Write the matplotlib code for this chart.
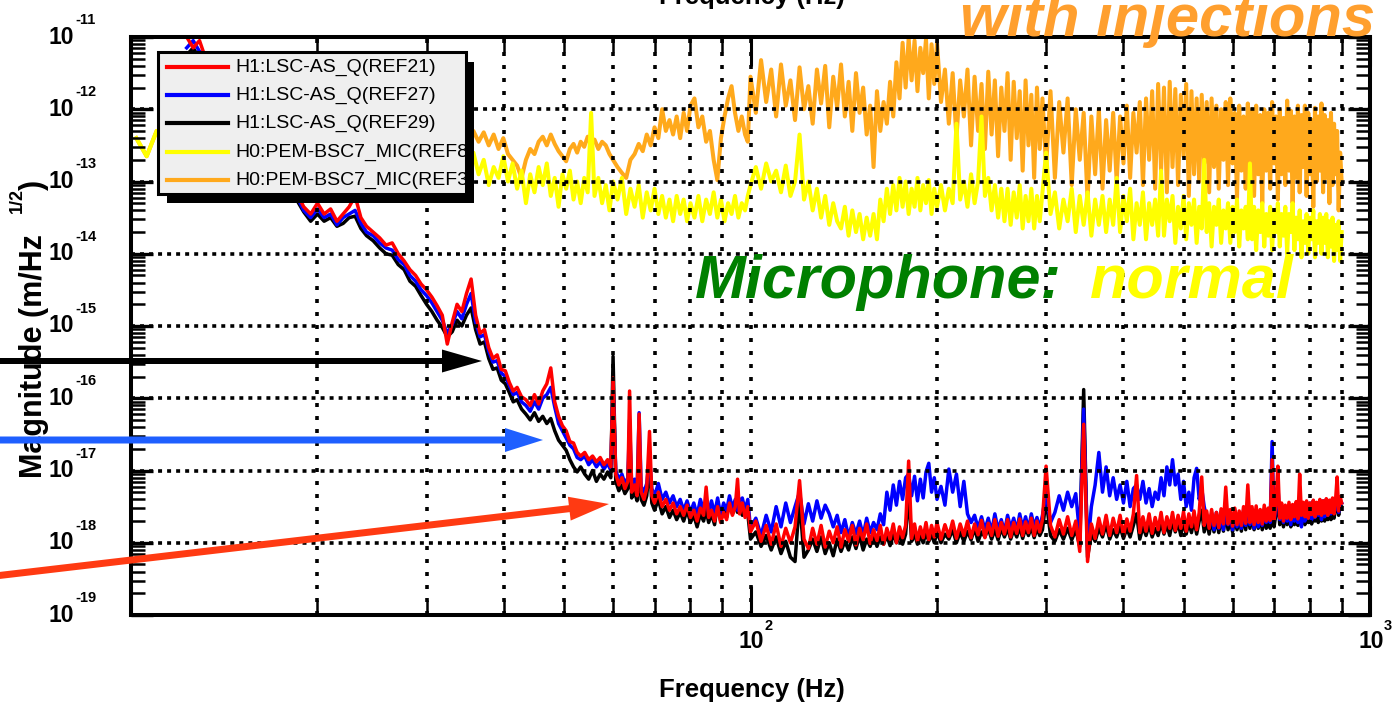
import numpy as np
import matplotlib
matplotlib.use("Agg")
import matplotlib.pyplot as plt
from matplotlib.patches import Rectangle, FancyArrow
from matplotlib.lines import Line2D
from matplotlib.transforms import Affine2D, ScaledTranslation
from matplotlib.ticker import LogLocator, NullFormatter

# ---------------------------------------------------------------------------
# Spectra: frequency bins (Hz) and log10 of the amplitude spectral density
# ---------------------------------------------------------------------------
# bins above 100 Hz are common to all five channels
freq_high = [
    100, 102, 104, 106, 108, 110, 112, 114, 116, 118,
    120, 122, 124, 126, 128, 130, 132, 134, 136, 138,
    140, 142, 144, 146, 148, 150, 152, 154, 156, 158,
    160, 162, 164, 166, 168, 170, 172, 174, 176, 178,
    180, 182, 184, 186, 188, 190, 192, 194, 196, 198,
    200, 203, 206, 209, 212, 215, 218, 221, 224, 227,
    230, 233, 236, 239, 242, 245, 248, 251, 254, 257,
    260, 263, 266, 269, 272, 275, 278, 281, 284, 287,
    290, 293, 296, 300, 305, 310, 315, 320, 325, 330,
    335, 340, 345, 350, 355, 360, 365, 370, 375, 380,
    385, 390, 395, 400, 405, 410, 415, 420, 425, 430,
    435, 440, 445, 450, 455, 460, 465, 470, 475, 480,
    485, 490, 495, 500, 505, 510, 515, 520, 525, 530,
    535, 540, 545, 550, 555, 560, 565, 570, 575, 580,
    585, 590, 595, 600, 605, 610, 615, 620, 625, 630,
    635, 640, 645, 650, 655, 660, 665, 670, 675, 680,
    685, 690, 695, 700, 705, 710, 715, 720, 725, 730,
    735, 740, 745, 750, 755, 760, 765, 770, 775, 780,
    785, 790, 795, 800, 805, 810, 815, 820, 825, 830,
    835, 840, 845, 850, 855, 860, 865, 870, 875, 880,
    885, 890, 895, 900,
]

freq_h1 = [
    12.3, 12.6, 12.9, 13.2, 13.6, 14.0, 14.5, 15.0, 15.6, 16.2, 16.8, 17.4, 18.0, 18.5, 19.0, 19.5, 20.0,
    20.5, 21.0, 21.5, 22.0, 22.5, 23.0, 23.5, 24.0, 24.6, 25.2, 25.8, 26.4, 27.0, 27.6, 28.2, 28.8, 29.4,
    30.0, 30.6, 31.2, 31.8, 32.4, 33.0, 33.6, 34.2, 34.8, 35.4, 36.0, 36.6, 37.2, 37.8, 38.4, 39.0, 39.6,
    40.2, 40.8, 41.4, 42.0, 42.7, 43.4, 44.1, 44.8, 45.5, 46.2, 46.9, 47.6, 48.3, 49.0, 49.7, 50.4, 51.1,
    51.8, 52.5, 53.2, 54.0, 54.8, 55.6, 56.4, 57.2, 58.0, 58.8, 59.5, 60.0,
    60.6, 61.3, 62.0, 62.7, 63.4, 63.8, 64.3, 65.0, 65.6, 66.1, 66.6, 67.3, 68.0, 68.7, 69.3, 70.0, 71.0,
    72.0, 73.0, 74.0, 75.0, 76.0, 77.0, 78.0, 79.0, 80.0, 81.0, 82.0, 83.0, 84.0, 84.8, 85.6, 86.5, 87.5,
    88.5, 89.5, 90.5, 91.5, 92.5, 93.5, 94.5, 95.3, 96.0, 97.0, 98.0, 99.0,
] + freq_high

freq_mic = [
    10.2, 10.6, 11.0, 11.5, 12.0, 13.0, 14.0, 15.5, 17.0, 18.5, 20.0, 22.0, 24.0, 26.0, 28.0, 30.0, 32.0, 34.0,
    35.0, 35.7, 36.4, 37.1, 37.8, 38.5, 39.2, 39.9, 40.6, 41.3, 42.0, 42.7, 43.4, 44.1, 44.8, 45.5, 46.2,
    46.9, 47.6, 48.3, 49.0, 49.7, 50.4, 51.1, 51.8, 52.5, 53.2, 53.9, 54.6, 55.3, 56.0, 56.8, 57.6, 58.4,
    59.2, 60.0, 61, 62, 63, 64, 65, 66, 67, 68, 69, 70, 71, 72, 73, 74, 75, 76, 77, 78, 79, 80,
    81.2, 82.4, 83.6, 84.8, 86, 87.2, 88.4, 89.6, 90.8, 92, 93.2, 94.4, 95.6, 96.8, 98, 99.0,
] + freq_high

ref21_red = [
    -11.00, -11.15, -11.05, -11.30, -11.40, -11.55, -11.75, -11.95, -12.15, -12.35, -12.55, -12.75, -12.95,
    -13.15, -13.35, -13.45, -13.30, -13.45, -13.38, -13.55, -13.45, -13.35, -13.20, -13.50, -13.62, -13.70,
    -13.78, -13.88, -13.85, -14.00, -14.10, -14.22, -14.30, -14.42,
    -14.50, -14.60, -14.72, -14.85, -15.25, -14.95, -14.70, -14.80, -14.55, -14.35,
    -14.85, -15.10, -15.05, -15.30, -15.45, -15.40, -15.60, -15.62, -15.78, -15.90,
    -15.85, -15.98, -16.02, -16.10, -15.95, -16.08, -15.90, -15.80, -15.58, -16.05,
    -16.25, -16.38, -16.45, -16.60, -16.62, -16.75, -16.80, -16.75, -16.85, -16.80,
    -16.88, -16.82, -16.92, -16.85, -16.95, -15.72,
    -17.05, -17.20, -17.10, -17.25, -17.15, -15.90, -17.30, -17.20, -17.35, -16.22,
    -17.30, -17.40, -17.25, -16.46, -17.35, -17.45, -17.30, -17.50, -17.40, -17.55,
    -17.45, -17.60, -17.50, -17.62, -17.48, -17.65, -17.55, -17.70, -17.52, -17.62,
    -17.23, -17.65, -17.55, -17.70, -17.50, -17.72, -17.58, -17.68, -17.45, -17.62,
    -17.50, -17.12, -17.60, -17.45, -17.65, -17.50,
    # from 100 Hz
    -17.85, -17.70, -17.98, -17.76, -18.02, -17.74, -18.05, -17.80, -18.00, -17.78,
    -17.14, -17.95, -18.08, -17.80, -18.02, -17.76, -18.06, -17.84, -18.00, -17.78,
    -18.06, -17.82, -17.98, -17.76, -18.03, -17.80, -17.96, -17.74, -18.01, -17.82,
    -17.97, -17.76, -18.02, -17.80, -17.95, -17.74, -18.00, -17.78, -17.93, -17.76,
    -16.87, -17.94, -17.74, -17.98, -17.78, -17.93, -17.72, -17.96, -17.76, -17.92,
    -17.72, -17.95, -17.75, -17.91, -17.70, -17.94, -17.74, -17.90, -17.70, -17.93,
    -17.74, -17.89, -17.69, -17.93, -17.73, -17.90, -17.68, -17.91, -17.72, -17.88,
    -17.68, -17.92, -17.72, -17.87, -17.67, -17.90, -17.71, -17.86, -17.66, -17.90,
    -17.70, -17.85, -17.68, -16.94, -17.76, -17.92, -17.68, -17.88, -17.64, -17.90,
    -17.70, -18.12, -16.36, -18.26, -17.74, -17.94, -17.66, -17.88, -17.62, -17.90,
    -17.66, -17.86, -17.62, -17.90, -17.67, -17.84, -17.60, -17.07, -17.86, -17.64,
    -17.84, -17.60, -17.87, -17.65, -17.82, -17.58, -17.86, -17.64, -17.80, -17.58,
    -17.83, -17.62, -17.80, -17.57, -17.84, -17.60, -17.78, -17.56, -17.82, -17.58,
    -17.09, -17.76, -17.56, -17.80, -17.54, -17.76, -17.58, -17.79, -17.53, -17.74,
    -17.23, -17.74, -17.54, -17.77, -17.52, -17.75, -17.56, -17.76, -17.50, -17.73,
    -17.20, -17.72, -17.50, -17.75, -17.49, -17.72, -17.54, -17.74, -17.48, -17.70,
    -17.52, -17.69, -16.85, -17.68, -17.47, -16.94, -17.66, -17.45, -17.70, -17.48,
    -17.66, -17.44, -17.68, -17.47, -17.64, -17.43, -17.67, -17.05, -17.62, -17.44,
    -17.64, -17.42, -17.66, -17.45, -17.61, -17.41, -17.64, -17.44, -17.60, -17.40,
    -17.62, -17.42, -17.59, -17.39, -17.62, -17.41, -17.58, -17.38, -17.60, -17.40,
    -17.09, -17.56, -17.36, -17.45,
]

ref27_blue = [
    -11.15, -11.05, -11.20, -11.25, -11.45, -11.60, -11.80, -12.00, -12.20, -12.40,
    -12.60, -12.80, -13.00, -13.20, -13.40, -13.50, -13.38, -13.50, -13.45, -13.60,
    -13.50, -13.45, -13.40, -13.58, -13.70, -13.75, -13.85, -13.92, -13.95, -14.08,
    -14.15, -14.30, -14.38, -14.50,
    -14.58, -14.68, -14.80, -14.92, -15.10, -14.98, -14.80, -14.90, -14.70, -14.55,
    -14.95, -15.15, -15.12, -15.35, -15.50, -15.48, -15.65, -15.70, -15.82, -15.95,
    -15.92, -16.05, -16.10, -16.18, -16.05, -16.15, -16.00, -15.95, -15.85, -16.12,
    -16.35, -16.45, -16.55, -16.65, -16.70, -16.82, -16.85, -16.80, -16.92, -16.85,
    -16.95, -16.88, -16.98, -16.90, -17.00, -15.80,
    -17.00, -17.12, -17.05, -17.18, -17.10, -16.30, -17.22, -17.12, -17.28, -16.20,
    -17.22, -17.30, -17.18, -16.80, -17.25, -17.35, -17.18, -17.40, -17.30, -17.45,
    -17.35, -17.50, -17.40, -17.55, -17.42, -17.58, -17.45, -17.62, -17.40, -17.55,
    -17.45, -17.58, -17.42, -17.60, -17.38, -17.62, -17.45, -17.55, -17.35, -17.52,
    -17.40, -17.55, -17.42, -17.38, -17.55, -17.40,
    # from 100 Hz
    -17.80, -17.66, -17.90, -17.62, -17.85, -17.50, -17.78, -17.45, -17.72, -17.50,
    -17.30, -17.74, -17.46, -17.70, -17.42, -17.66, -17.48, -17.60, -17.78, -17.62,
    -17.86, -17.68, -17.92, -17.72, -17.88, -17.70, -17.90, -17.66, -17.86, -17.72,
    -17.82, -17.60, -17.75, -17.30, -17.55, -17.20, -17.48, -17.15, -17.40, -17.10,
    -17.05, -17.35, -17.08, -17.42, -17.12, -17.38, -17.02, -16.90, -17.30, -17.10,
    -17.40, -17.22, -17.48, -16.98, -17.30, -17.05, -17.50, -17.15, -17.60, -17.72,
    -17.62, -17.80, -17.64, -17.82, -17.66, -17.85, -17.60, -17.82, -17.68, -17.85,
    -17.62, -17.80, -17.66, -17.84, -17.60, -17.80, -17.64, -17.82, -17.60, -17.78,
    -17.65, -17.80, -17.62, -17.30, -17.72, -17.58, -17.35, -17.55, -17.30, -17.50,
    -17.32, -17.90, -16.15, -18.10, -17.50, -17.20, -16.75, -17.30, -16.95, -17.35,
    -17.10, -17.40, -17.20, -17.45, -17.15, -17.50, -17.25, -17.20, -17.40, -17.15,
    -17.45, -17.25, -17.50, -17.30, -17.40, -17.10, -17.35, -16.95, -17.20, -16.85,
    -17.20, -17.05, -17.40, -17.15, -17.50, -17.30, -17.55, -17.10, -16.97, -17.40,
    -17.25, -17.50, -17.65, -17.78, -17.60, -17.82, -17.58, -17.80, -17.62, -17.82,
    -17.45, -17.75, -17.58, -17.82, -17.55, -17.78, -17.60, -17.80, -17.55, -17.76,
    -17.50, -17.75, -17.56, -17.80, -17.55, -17.78, -17.60, -17.76, -17.54, -17.72,
    -17.60, -17.72, -16.60, -17.70, -17.50, -17.20, -17.68, -17.50, -17.72, -17.52,
    -17.70, -17.48, -17.75, -17.50, -17.70, -17.46, -17.72, -17.45, -17.78, -17.50,
    -17.70, -17.48, -17.66, -17.45, -17.68, -17.42, -17.65, -17.46, -17.62, -17.44,
    -17.68, -17.42, -17.64, -17.40, -17.62, -17.45, -17.60, -17.42, -17.58, -17.45,
    -17.50, -17.58, -17.42, -17.45,
]

ref29_black = [
    -11.25, -11.15, -11.30, -11.35, -11.50, -11.65, -11.85, -12.05, -12.25, -12.45,
    -12.65, -12.85, -13.05, -13.25, -13.42, -13.55, -13.45, -13.55, -13.50, -13.62,
    -13.58, -13.50, -13.48, -13.65, -13.75, -13.82, -13.92, -14.00, -14.02, -14.15,
    -14.22, -14.38, -14.45, -14.58,
    -14.70, -14.80, -14.92, -15.02, -15.15, -15.08, -14.92, -15.00, -14.85, -14.75,
    -15.05, -15.25, -15.22, -15.45, -15.60, -15.58, -15.75, -15.80, -15.92, -16.05,
    -16.02, -16.15, -16.22, -16.30, -16.20, -16.32, -16.25, -16.35, -16.28, -16.45,
    -16.58, -16.65, -16.72, -16.85, -16.95, -17.02, -16.95, -17.05, -17.12, -17.00,
    -17.15, -17.05, -17.12, -17.02, -17.10, -15.42,
    -17.15, -17.28, -17.20, -17.32, -17.25, -16.45, -17.38, -17.30, -17.42, -16.95,
    -17.40, -17.48, -17.35, -16.90, -17.45, -17.55, -17.40, -17.60, -17.50, -17.65,
    -17.55, -17.68, -17.58, -17.70, -17.55, -17.72, -17.62, -17.78, -17.60, -17.70,
    -17.55, -17.72, -17.60, -17.75, -17.45, -17.70, -17.50, -17.65, -17.42, -17.60,
    -17.48, -17.58, -17.50, -17.62, -17.48, -17.60,
    # from 100 Hz
    -17.95, -17.85, -18.05, -17.90, -18.10, -17.92, -18.15, -17.98, -18.20, -18.26,
    -17.40, -18.20, -18.10, -17.95, -18.12, -17.92, -18.15, -18.00, -18.18, -17.95,
    -18.12, -17.98, -18.10, -17.92, -18.08, -17.90, -18.10, -17.95, -18.05, -17.90,
    -18.05, -17.92, -18.02, -17.90, -18.04, -17.88, -18.00, -17.90, -18.02, -17.88,
    -17.30, -17.98, -17.88, -18.02, -17.90, -18.00, -17.86, -17.98, -17.88, -18.00,
    -17.85, -18.00, -17.88, -17.95, -17.82, -18.00, -17.85, -17.98, -17.84, -17.96,
    -17.80, -17.98, -17.85, -17.92, -17.80, -17.95, -17.82, -17.96, -17.80, -17.92,
    -17.80, -17.95, -17.82, -17.92, -17.78, -17.94, -17.80, -17.90, -17.78, -17.93,
    -17.80, -17.90, -17.82, -17.40, -17.90, -17.98, -17.82, -17.95, -17.80, -17.96,
    -17.82, -18.05, -15.88, -18.20, -17.88, -17.98, -17.80, -17.92, -17.75, -17.95,
    -17.82, -17.92, -17.78, -17.94, -17.80, -17.92, -17.76, -17.60, -17.95, -17.78,
    -17.90, -17.75, -17.92, -17.80, -17.90, -17.72, -17.88, -17.75, -17.90, -17.70,
    -17.85, -17.72, -17.90, -17.70, -17.88, -17.72, -17.86, -17.68, -17.88, -17.70,
    -17.55, -17.85, -17.70, -17.88, -17.68, -17.85, -17.66, -17.86, -17.64, -17.84,
    -17.60, -17.82, -17.68, -17.85, -17.65, -17.82, -17.66, -17.84, -17.62, -17.82,
    -17.55, -17.80, -17.62, -17.82, -17.60, -17.80, -17.64, -17.82, -17.62, -17.80,
    -17.65, -17.80, -17.10, -17.78, -17.60, -17.40, -17.75, -17.58, -17.78, -17.60,
    -17.75, -17.58, -17.78, -17.60, -17.75, -17.56, -17.76, -17.50, -17.72, -17.58,
    -17.75, -17.56, -17.72, -17.55, -17.74, -17.54, -17.70, -17.52, -17.72, -17.52,
    -17.70, -17.50, -17.70, -17.52, -17.68, -17.50, -17.68, -17.52, -17.66, -17.50,
    -17.45, -17.62, -17.48, -17.50,
]

ref8_yellow = [
    -12.40, -12.65, -12.30, -12.55, -12.45, -12.55, -12.60, -12.50, -12.65, -12.60, -12.70, -12.65,
    -12.75, -12.70, -12.80, -12.75, -12.85, -12.80,
    -12.75, -12.60, -12.90, -12.70, -13.05, -12.80, -12.95, -12.65, -13.00, -12.75,
    -13.10, -12.85, -13.30, -12.90, -13.15, -12.80, -13.05, -12.75, -13.20, -12.95,
    -13.35, -12.90, -13.10, -12.85, -13.25, -13.00, -13.30, -12.95, -13.15, -12.05,
    -13.20, -12.95, -13.30, -13.05, -13.40, -13.00,
    -13.25, -12.95, -13.45, -13.10, -13.35, -13.05, -13.50, -13.15, -13.40, -13.10,
    -13.45, -13.20, -13.50, -13.25, -13.55, -13.20, -13.45, -13.25, -13.55, -13.30,
    -13.50, -13.20, -13.55, -13.25, -13.45, -13.15, -13.50, -13.25, -13.55, -13.30,
    -13.45, -13.20, -13.50, -13.30, -13.40, -13.20,
    # from 100 Hz
    -13.05, -12.80, -13.10, -12.75, -13.00, -12.85, -13.15, -12.78, -13.20, -13.00,
    -12.35, -13.25, -13.00, -13.40, -13.10, -13.50, -13.20, -13.60, -13.30, -13.55,
    -13.65, -13.35, -13.75, -13.40, -13.70, -13.45, -13.80, -13.50, -13.75, -13.45,
    -13.80, -13.25, -13.55, -13.10, -13.45, -13.05, -13.40, -12.95, -13.35, -13.00,
    -13.45, -13.10, -13.35, -12.95, -13.40, -13.05, -13.30, -12.98, -13.45, -13.10,
    -13.35, -13.05, -13.40, -13.10, -13.30, -12.20, -13.25, -13.00, -13.35, -12.90,
    -13.30, -13.00, -12.10, -13.20, -12.95, -13.40, -13.05, -13.50, -13.10, -13.55,
    -13.10, -13.60, -13.15, -13.50, -13.05, -13.65, -13.20, -13.55, -13.10, -13.65,
    -13.20, -13.55, -13.15, -12.60, -13.45, -13.15, -13.65, -13.25, -13.55, -13.10,
    -13.70, -13.20, -13.60, -13.15, -13.75, -13.25, -13.60, -13.20, -13.70, -13.25,
    -13.60, -12.95, -13.70, -13.20, -13.55, -13.10, -13.80, -13.30, -13.60, -13.15,
    -13.80, -13.30, -13.60, -13.25, -13.75, -12.85, -13.75, -13.25, -13.55, -13.20,
    -13.85, -13.35, -13.65, -13.20, -13.80, -13.30, -13.60, -13.25, -13.85, -13.35,
    -13.65, -12.70, -13.70, -13.30, -13.90, -13.35, -13.60, -13.25, -13.85, -13.40,
    -13.65, -13.30, -13.85, -13.35, -13.70, -13.25, -13.90, -13.40, -13.65, -13.35,
    -13.80, -12.75, -13.80, -13.35, -13.95, -13.40, -13.70, -13.30, -13.90, -13.45,
    -13.75, -13.35, -13.95, -13.40, -13.70, -13.30, -13.90, -13.45, -13.75, -13.35,
    -14.00, -13.45, -13.70, -13.30, -13.95, -13.50, -13.80, -13.40, -14.05, -13.55,
    -13.85, -13.45, -14.00, -13.50, -13.80, -13.40, -14.05, -13.55, -13.85, -13.45,
    -14.00, -13.50, -13.85, -13.45, -14.05, -13.55, -13.90, -13.50, -14.10, -13.60,
    -13.95, -13.55, -14.10, -13.70,
]

ref3_orange = [
    -12.40, -12.65, -12.30, -12.55, -12.50, -12.45, -12.55, -12.40, -12.50, -12.45, -12.55, -12.40,
    -12.50, -12.45, -12.55, -12.40, -12.50, -12.45,
    -12.40, -12.30, -12.45, -12.32, -12.50, -12.35, -12.55, -12.40, -12.62, -12.70,
    -12.78, -12.95, -12.70, -12.55, -12.62, -12.45, -12.38, -12.50, -12.35, -12.48,
    -12.58, -12.65, -12.72, -12.55, -12.48, -12.60, -12.45, -12.52, -12.38, -12.50,
    -12.42, -12.55, -12.45, -12.50, -12.62, -12.70,
    -12.80, -12.88, -12.95, -12.70, -12.62, -12.48, -12.58, -12.35, -12.50, -12.25,
    -12.40, -12.00, -12.30, -12.15, -12.35, -12.10, -12.40, -12.05, -12.30, -11.95,
    -11.85, -12.25, -12.10, -12.45, -12.30, -12.70, -12.98, -12.40, -12.10, -11.85,
    -11.68, -12.05, -12.30, -12.10, -12.35, -12.45,
    # from 100 Hz
    -11.55, -12.05, -11.32, -11.90, -11.45, -12.10, -11.38, -11.95, -11.60, -12.15,
    -11.42, -12.00, -11.68, -12.20, -11.45, -11.92, -11.40, -12.25, -11.55, -11.98,
    -11.38, -12.10, -11.62, -12.30, -11.50, -12.05, -11.70, -12.35, -11.95, -12.80,
    -11.75, -12.30, -11.90, -12.20, -11.62, -12.10, -11.35, -11.85, -11.08, -11.70,
    -11.02, -11.60, -11.05, -11.75, -11.15, -11.50, -11.03, -11.85, -11.10, -11.65,
    -11.08, -11.90, -11.45, -12.20, -11.50, -12.40, -11.60, -12.10, -11.45, -12.50,
    -11.55, -12.30, -11.65, -12.55, -11.48, -12.35, -11.60, -12.65, -11.70, -12.30,
    -11.50, -12.70, -11.62, -12.40, -11.75, -12.85, -11.60, -12.50, -11.80, -12.95,
    -11.70, -12.55, -11.85, -12.80, -11.75, -12.95, -11.90, -12.60, -11.85, -13.05,
    -12.00, -12.70, -12.05, -13.25, -12.10, -12.90, -12.00, -13.10, -12.15, -12.85,
    -12.05, -13.00, -12.10, -12.75, -11.95, -12.95, -12.05, -12.60, -11.90, -13.05,
    -11.85, -12.70, -11.75, -13.10, -11.65, -12.85, -11.70, -13.15, -11.62, -12.80,
    -11.72, -13.05, -11.80, -12.65, -11.65, -13.20, -11.75, -12.90, -11.85, -13.00,
    -11.80, -12.75, -11.90, -13.15, -11.85, -12.80, -11.95, -13.10, -12.00, -12.70,
    -11.90, -13.05, -11.85, -12.75, -12.05, -13.25, -11.95, -12.85, -12.10, -13.10,
    -11.92, -12.80, -12.00, -13.20, -11.95, -12.90, -12.08, -13.30, -12.00, -12.85,
    -12.05, -13.10, -11.90, -12.75, -12.10, -13.25, -12.00, -12.90, -12.12, -13.05,
    -11.88, -12.85, -12.02, -13.30, -12.10, -12.95, -11.95, -13.15, -12.08, -12.80,
    -11.95, -13.20, -12.05, -12.90, -12.15, -13.35, -11.98, -13.00, -12.10, -12.85,
    -11.92, -13.15, -12.08, -12.95, -12.15, -13.30, -12.05, -13.05, -12.20, -12.90,
    -12.30, -13.40, -12.60, -13.00,
]

series_labels = [
    "H1:LSC-AS_Q(REF21)",
    "H1:LSC-AS_Q(REF27)",
    "H1:LSC-AS_Q(REF29)",
    "H0:PEM-BSC7_MIC(REF8)",
    "H0:PEM-BSC7_MIC(REF3)",
]
x_label_exponents = [2, 3]
y_label_exponents = [-11, -12, -13, -14, -15, -16, -17, -18, -19]

for f, v in [(freq_h1, ref21_red), (freq_h1, ref27_blue), (freq_h1, ref29_black),
             (freq_mic, ref8_yellow), (freq_mic, ref3_orange)]:
    assert len(f) == len(v), (len(f), len(v))

RED, BLUE, BLACK = "#ff0000", "#0000ff", "#000000"
YELLOW, ORANGE = "#ffff00", "#ffa91c"
series_colors = [RED, BLUE, BLACK, YELLOW, ORANGE]

# ---------------------------------------------------------------------------
W, H, DPI = 1397, 706, 100
fig = plt.figure(figsize=(W / DPI, H / DPI), dpi=DPI)
fig.patch.set_facecolor("white")

# pixel frame with the origin in the top-left corner
PX = Affine2D().scale(1.0 / DPI, -1.0 / DPI).translate(0, H / DPI) + fig.dpi_scale_trans


def px_rect(x0, y0, x1, y1):
    return [x0 / W, 1 - y1 / H, (x1 - x0) / W, (y1 - y0) / H]


ax = fig.add_axes(px_rect(131, 37, 1370, 615))
ax.set_xscale("log")
ax.set_yscale("log")

lw_h1, lw_mic = 2.5, 2.9
ax.plot(freq_mic, 10.0 ** np.asarray(ref3_orange), color=ORANGE, lw=lw_mic, zorder=2.00)
ax.plot(freq_mic, 10.0 ** np.asarray(ref8_yellow), color=YELLOW, lw=lw_mic, zorder=2.01)
ax.plot(freq_h1, 10.0 ** np.asarray(ref29_black), color=BLACK, lw=lw_h1, zorder=2.02)
ax.plot(freq_h1, 10.0 ** np.asarray(ref27_blue), color=BLUE, lw=lw_h1, zorder=2.03)
ax.plot(freq_h1, 10.0 ** np.asarray(ref21_red), color=RED, lw=lw_h1, zorder=2.04)

ax.set_xlim(10, 1000)
ax.set_ylim(1e-19, 1e-11)

ax.xaxis.set_major_locator(LogLocator(base=10, subs=(1.0,), numticks=10))
ax.xaxis.set_minor_locator(LogLocator(base=10, subs=(2, 3, 4, 5, 6, 7, 8, 9), numticks=50))
ax.yaxis.set_major_locator(LogLocator(base=10, subs=(1.0,), numticks=20))
ax.yaxis.set_minor_locator(LogLocator(base=10, subs=(2, 3, 4, 5, 6, 7, 8, 9), numticks=200))
ax.xaxis.set_minor_formatter(NullFormatter())
ax.yaxis.set_minor_formatter(NullFormatter())

ax.tick_params(which="both", direction="in", top=True, right=True,
               labelbottom=False, labelleft=False, color="black")
ax.tick_params(axis="x", which="major", length=21, width=2.2)
ax.tick_params(axis="x", which="minor", length=11, width=1.8)
ax.tick_params(axis="y", which="major", length=16, width=2.4)
ax.tick_params(axis="y", which="minor", length=10, width=1.8)

for sp in ax.spines.values():
    sp.set_linewidth(2.9)
    sp.set_color("black")

ax.set_axisbelow(False)
ax.xaxis.grid(True, which="both", color="black", linewidth=2.6,
              linestyle=(0, (1.1, 2.5)), dash_capstyle="butt")
ax.yaxis.grid(True, which="major", color="black", linewidth=2.6,
              linestyle=(0, (1.1, 1.4)), dash_capstyle="butt")
ax.yaxis.grid(False, which="minor")


def shift(dx, dy):
    return ScaledTranslation(dx / DPI, dy / DPI, fig.dpi_scale_trans)


tick_font = dict(family="Liberation Sans", weight="bold", color="black")
ytr = ax.get_yaxis_transform()
for e in y_label_exponents:
    ax.text(0, 10.0 ** e, "10", transform=ytr + shift(-57, 0),
            ha="right", va="center", fontsize=16.5, **tick_font)
    ax.text(0, 10.0 ** e, str(e), transform=ytr + shift(-56, 17),
            ha="left", va="center", fontsize=10.5, **tick_font)
xtr = ax.get_xaxis_transform()
for e in x_label_exponents:
    ax.text(10.0 ** e, 0, "10", transform=xtr + shift(1, -27),
            ha="center", va="center", fontsize=16.5, **tick_font)
    ax.text(10.0 ** e, 0, str(e), transform=xtr + shift(14, -11),
            ha="left", va="center", fontsize=10.5, **tick_font)

# axis titles
fig.text(752, 697, "Frequency (Hz)", transform=PX, ha="center", va="baseline",
         fontsize=18.5, family="Liberation Sans", weight="bold")
fig.text(752, 4, "Frequency (Hz)", transform=PX, ha="center", va="baseline",
         fontsize=18.5, family="Liberation Sans", weight="bold")
fig.text(34, 478, "Magnitude (m/Hz", transform=PX, rotation=90, ha="center", va="bottom",
         fontsize=22, family="Liberation Sans", weight="bold", zorder=5)
fig.text(17, 213, "1/2", transform=PX, rotation=90, ha="center", va="bottom",
         fontsize=13, family="Liberation Sans", weight="bold", zorder=5)
fig.text(34, 190, ")", transform=PX, rotation=90, ha="center", va="bottom",
         fontsize=22, family="Liberation Sans", weight="bold", zorder=5)

# annotations
note_font = dict(family="Liberation Sans", weight="bold", style="italic")
fig.text(1168, 36, "with injections", transform=PX, ha="center", va="baseline",
         fontsize=43, color="#ff9f2e", zorder=6, **note_font)
fig.text(695, 298, "Microphone:", transform=PX, ha="left", va="baseline",
         fontsize=44, color="#008000", zorder=6, **note_font)
fig.text(1090, 298, "normal", transform=PX, ha="left", va="baseline",
         fontsize=44, color=YELLOW, zorder=6, **note_font)

# legend box with drop shadow
fig.add_artist(Rectangle((167, 62), 307, 141, transform=PX, facecolor="black",
                         edgecolor="none", zorder=10))
fig.add_artist(Rectangle((158, 52), 308, 142, transform=PX, facecolor="#efefef",
                         edgecolor="black", linewidth=2.2, zorder=11))
legend_rows = [67, 95, 123, 152, 180]
for lab, col, yy in zip(series_labels, series_colors, legend_rows):
    fig.add_artist(Line2D([167, 228], [yy, yy], transform=PX, color=col, linewidth=3.0, zorder=12))
    fig.text(235, yy, lab, transform=PX, ha="left", va="center", fontsize=14,
             family="Liberation Sans", color="black", zorder=12)


# pointer arrows coming in from the left edge
def pointer(x0, y0, x1, y1, color, shaft, head_w, head_l):
    fig.add_artist(FancyArrow(x0, y0, x1 - x0, y1 - y0, width=shaft, head_width=head_w,
                              head_length=head_l, length_includes_head=True, transform=PX,
                              facecolor=color, edgecolor="none", zorder=20))


pointer(-5, 361, 482, 361, "black", 6, 23, 40)
pointer(-5, 440, 543, 440, "#1f5fff", 7, 24, 38)
pointer(-5, 576, 609, 504, "#ff3a12", 7, 24, 40)

fig.savefig("out.png", dpi=DPI, facecolor="white")
